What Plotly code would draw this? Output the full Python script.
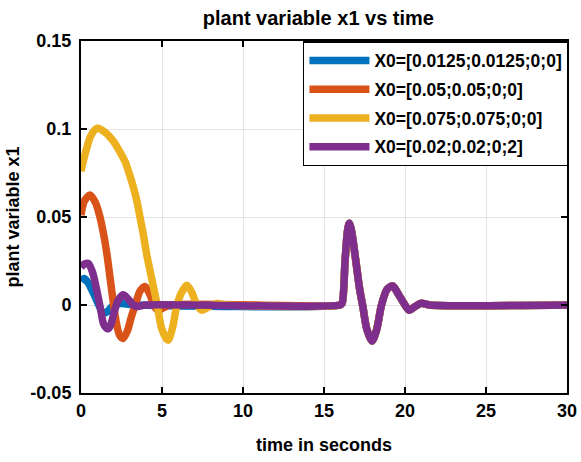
import plotly.graph_objects as go

# ---- data ----
names = ["X0=[0.0125;0.0125;0;0]", "X0=[0.05;0.05;0;0]",
         "X0=[0.075;0.075;0;0]", "X0=[0.02;0.02;0;2]"]
colors = ["#0072BD", "#D95319", "#EDB120", "#7E2F8E"]

blue_t = [0, 0.2, 0.45, 0.7, 0.9, 1.1, 1.35, 1.6, 1.85, 2.1, 2.5, 3.0, 3.5]
blue_v = [0.0135, 0.015, 0.0125, 0.008, 0.004, 0.0, -0.0045, -0.004, -0.0015, 0.0003, 0.0008, 0.0003, 0]

orange_t = [0, 0.2, 0.56, 0.9, 1.17, 1.4, 1.6, 1.8, 2.0, 2.2, 2.4, 2.6, 2.85, 3.1, 3.38,
            3.65, 3.95, 4.25, 4.55, 4.8, 5.1, 5.5]
orange_v = [0.051, 0.059, 0.0625, 0.058, 0.050, 0.040, 0.029, 0.015, 0.001, -0.011, -0.0175,
            -0.019, -0.015, -0.007, 0.001, 0.008, 0.0105, 0.006, -0.001, -0.003, -0.0015, 0]

yellow_t = [0, 0.15, 0.35, 0.6, 1.0, 1.5, 2.0, 2.4, 2.72, 3.0, 3.23, 3.45, 3.64, 3.85, 4.05,
            4.25, 4.47, 4.7, 5.0, 5.37, 5.65, 5.9, 6.2, 6.54, 6.85, 7.15, 7.47, 7.9, 8.4, 9.0]
yellow_v = [0.076, 0.082, 0.089, 0.096, 0.1004, 0.098, 0.093, 0.087, 0.0815, 0.074, 0.067,
            0.059, 0.050, 0.040, 0.029, 0.020, 0.0104, 0.0, -0.014, -0.020, -0.013, -0.001,
            0.007, 0.0112, 0.007, 0.0, -0.003, -0.001, 0.0008, 0]

purple_t = [0, 0.2, 0.45, 0.7, 0.97, 1.2, 1.38, 1.55, 1.69, 1.85, 2.05, 2.3, 2.6, 2.9, 3.23, 3.5, 4.0]
purple_v = [0.0215, 0.0232, 0.0237, 0.019, 0.0085, -0.002, -0.0104, -0.013, -0.0135, -0.011,
            -0.004, 0.0028, 0.0058, 0.0035, 0.0, -0.0008, 0]

# common disturbance response around t = 16 s
dist_t = [16.0, 16.12, 16.3, 16.45, 16.56, 16.7, 16.95, 17.2, 17.4, 17.65, 17.96, 18.25,
          18.55, 18.9, 19.24, 19.6, 20.0, 20.27, 20.6, 21.0, 21.5]
dist_v = [0, 0.001, 0.025, 0.042, 0.0464, 0.042, 0.026, 0.009, -0.001, -0.014, -0.0205,
          -0.014, 0, 0.009, 0.0108, 0.006, 0, -0.003, -0.001, 0.001, 0]

end_t = [30.0]
end_v = [0.0]

x_ticks = [0, 5, 10, 15, 20, 25, 30]
y_ticks = [-0.05, 0, 0.05, 0.1, 0.15]
y_tick_labels = ["-0.05", "0", "0.05", "0.1", "0.15"]

series = [(blue_t, blue_v), (orange_t, orange_v), (yellow_t, yellow_v), (purple_t, purple_v)]

FONT = "Liberation Sans, Arial, sans-serif"

fig = go.Figure()
for i, ((t, v), name, col) in enumerate(zip(series, names, colors)):
    fig.add_trace(go.Scatter(
        x=t + dist_t + end_t, y=v + dist_v + end_v, mode="lines", name=name,
        legendgroup=f"g{i}",
        line=dict(color=col, width=7.5, shape="spline", smoothing=0.8),
    ))

axis_common = dict(
    showline=True, linecolor="black", linewidth=2, mirror="ticks",
    ticks="inside", ticklen=6, tickwidth=2, tickcolor="black",
    showgrid=True, gridcolor="#e3e3e3", gridwidth=1, zeroline=False,
    automargin=False,
    tickfont=dict(family=FONT, size=18, color="black", weight="bold"),
)

fig.update_layout(
    width=581, height=462,
    margin=dict(l=81, r=14, t=41, b=69),
    paper_bgcolor="white", plot_bgcolor="white",
    title=dict(text="<b>plant variable x1 vs time</b>", x=0.548, xanchor="center",
               y=0.962, yanchor="middle",
               font=dict(family=FONT, size=20, color="black")),
    xaxis=dict(range=[0, 30], tickvals=x_ticks,
               title=dict(text="<b>time in seconds</b>", standoff=19,
                          font=dict(family=FONT, size=18, color="black")),
               **axis_common),
    yaxis=dict(range=[-0.05, 0.15], tickvals=y_ticks, ticktext=y_tick_labels,
               ticklabelstandoff=4,
               title=dict(text="<b>plant variable x1</b>", standoff=6,
                          font=dict(family=FONT, size=18, color="black")),
               **axis_common),
    legend=dict(x=1.004, xanchor="right", y=1.0, yanchor="top",
                bgcolor="white", bordercolor="black", borderwidth=1.5,
                font=dict(family=FONT, size=17.5, color="black", weight="bold"),
                itemwidth=60, tracegroupgap=3, traceorder="grouped"),
    showlegend=True,
)

fig.write_html("out.html")
